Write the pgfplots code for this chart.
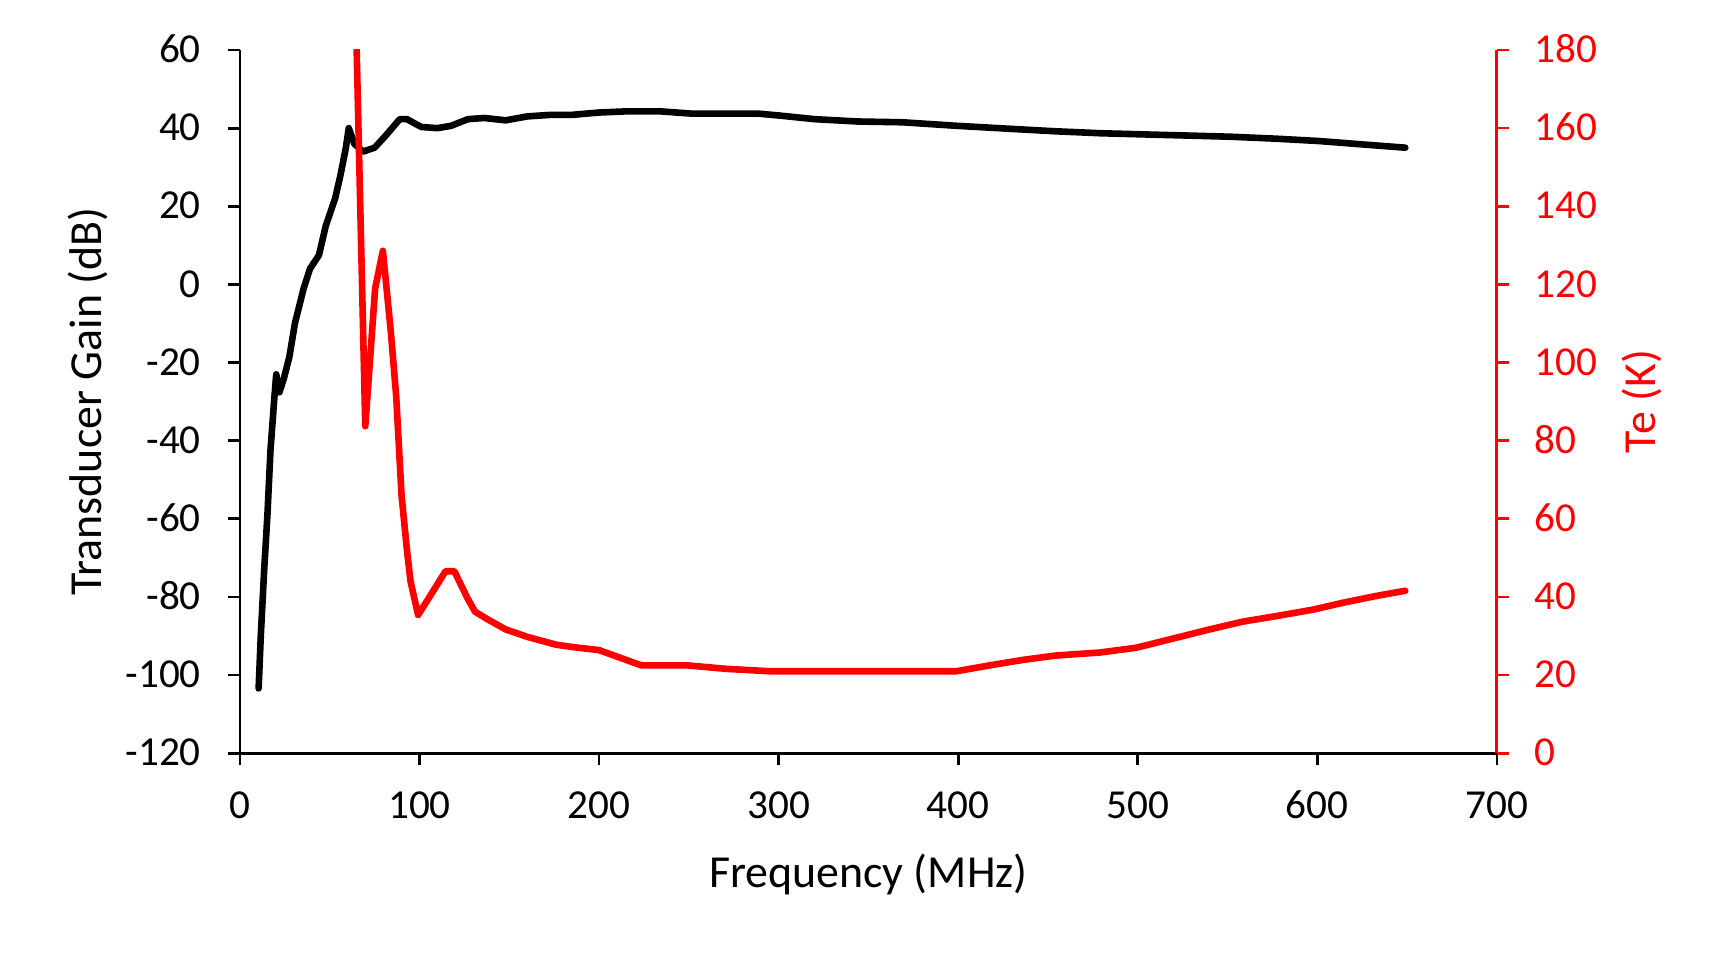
\documentclass[border=0pt]{standalone}
\usepackage{fontspec}
\setmainfont{Carlito}
\usepackage{pgfplots}
\pgfplotsset{compat=1.18}
\definecolor{tered}{RGB}{255,0,0}
\begin{document}
\begin{tikzpicture}
\begin{axis}[
  at={(0,0)}, anchor=south west,
  scale only axis, width=113.67mm, height=63.6mm,
  xmin=0, xmax=700, ymin=-120, ymax=60,
  axis x line*=bottom, axis y line*=left,
  xtick={0,100,...,700}, xticklabels={0,100,200,300,400,500,600,700},
  ytick={-120,-100,...,60}, yticklabels={-120,-100,-80,-60,-40,-20,0,20,40,60},
  tick align=outside, major tick length=1.1mm,
  every tick/.style={black, line width=0.7pt},
  axis line style={line width=0.7pt, black},
  tick label style={font=\fontsize{10.6}{12}\selectfont, text height=0.65em, text depth=0pt},
  xticklabel style={yshift=-1.3mm},
  yticklabel style={xshift=-1.2mm},
  label style={font=\fontsize{11.8}{14}\selectfont},
  xlabel={Frequency (MHz)}, ylabel={Transducer Gain (dB)},
  xlabel style={at={(axis description cs:0.5,-0.172)}, anchor=center},
  ylabel style={at={(axis description cs:-0.1207,0.5)}, anchor=center},
  clip=true,
]
\addplot[black, line width=1.7pt, line join=round, line cap=round] coordinates {
(10.4,-103.4) (11.6,-90) (13.5,-73) (15.3,-59) (17,-42.5) (19,-30) (20.2,-23)
(22,-27.6) (24.5,-24) (27.5,-18.6) (30.6,-10) (35.5,-1) (39,4) (44,7.5)
(47.8,15) (53,22) (56,28) (59,35) (60.6,40) (63.7,36) (68.6,34) (75,35)
(81,38) (89,42.3) (93,42.3) (101,40.3) (110,40) (117.6,40.6) (127,42.3)
(136,42.6) (148,42) (160,43) (173,43.4) (185,43.4) (200,44) (215.5,44.3)
(234,44.3) (252,43.7) (271,43.7) (289,43.7) (301,43.2) (320,42.3) (344,41.7)
(369,41.5) (399,40.6) (430,39.8) (454,39.2) (479,38.7) (503,38.4) (528,38.1)
(552,37.8) (577,37.3) (601,36.7) (626,35.8) (649,35)
};
\end{axis}
\begin{axis}[
  at={(0,0)}, anchor=south west,
  scale only axis, width=113.67mm, height=63.6mm,
  xmin=0, xmax=700, ymin=0, ymax=180,
  axis x line=none, axis y line*=right,
  ytick={0,20,...,180}, yticklabels={0,20,40,60,80,100,120,140,160,180},
  tick align=outside, major tick length=1.1mm,
  every tick/.style={tered, line width=0.7pt},
  axis line style={line width=0.75pt, tered},
  tick label style={font=\fontsize{10.6}{12}\selectfont, text=tered, text height=0.65em, text depth=0pt},
  yticklabel style={xshift=1.05mm},
  label style={font=\fontsize{11.8}{14}\selectfont, text=tered},
  ylabel={Te (K)},
  ylabel style={at={(axis description cs:1.1154,0.5)}, anchor=center},
  clip=true,
]
\addplot[tered, line width=1.7pt, line join=round, line cap=round] coordinates {
(65,180) (69.8,83.7) (75.3,119) (79.6,128.6) (84,108) (87,91.5) (90,66)
(93,52) (95,44) (99.2,35.4) (105,39.6) (114.5,46.6) (119.4,46.6) (126.8,39.6)
(131,36.2) (139,34) (148,31.7) (160,29.8) (176,27.8) (185,27.2) (200,26.4)
(223.5,22.5) (249,22.5) (271,21.6) (295,21) (307,21) (399,21) (417.6,22.5)
(436,23.9) (454,25) (479,25.8) (499,27) (515.6,28.9) (540,31.7) (558.5,33.7)
(577,35.1) (598,36.8) (614,38.5) (632,40.2) (649,41.6)
};
\end{axis}
\pgfresetboundingbox
\path[use as bounding box] (-21.70mm,-18.51mm) rectangle (134.30mm,68.12mm);
\end{tikzpicture}
\end{document}
